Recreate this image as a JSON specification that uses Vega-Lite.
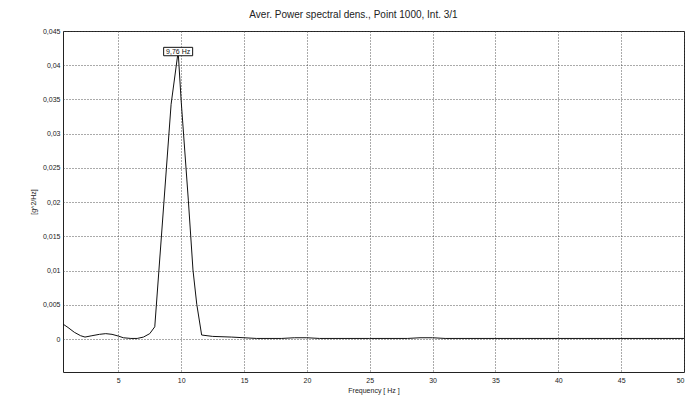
{
  "$schema": "https://vega.github.io/schema/vega-lite/v6.json",
  "width": 621,
  "height": 341,
  "autosize": "none",
  "padding": {"left": 63, "top": 31, "right": 11, "bottom": 39},
  "background": "white",
  "title": {"text": "Aver. Power spectral dens., Point 1000, Int. 3/1", "font": "Liberation Sans", "fontSize": 10, "fontWeight": "normal", "color": "#222", "offset": 7, "dx": -20},
  "config": {
    "view": {"stroke": "#222", "strokeWidth": 1},
    "axis": {"labelFont": "Liberation Sans", "labelFontSize": 7, "labelColor": "#222", "titleFont": "Liberation Sans", "titleFontSize": 7, "titleFontWeight": "normal", "titleColor": "#222", "gridColor": "#444", "gridDash": [1, 2], "gridWidth": 1, "gridOpacity": 0.9, "domain": false, "ticks": false}
  },
  "layer": [
    {
      "data": {"values": [
        {"f": 0.6, "psd": 0.0022},
        {"f": 1.0, "psd": 0.0017},
        {"f": 1.5, "psd": 0.0010},
        {"f": 2.0, "psd": 0.0005},
        {"f": 2.35, "psd": 0.0003},
        {"f": 2.9, "psd": 0.0005},
        {"f": 3.5, "psd": 0.0007},
        {"f": 4.0, "psd": 0.0008},
        {"f": 4.5, "psd": 0.0007},
        {"f": 5.0, "psd": 0.00045},
        {"f": 5.4, "psd": 0.0002},
        {"f": 6.0, "psd": 0.0001},
        {"f": 6.5, "psd": 0.0001},
        {"f": 7.0, "psd": 0.0003},
        {"f": 7.5, "psd": 0.0008},
        {"f": 7.9, "psd": 0.0018},
        {"f": 9.2, "psd": 0.0343},
        {"f": 9.76, "psd": 0.042},
        {"f": 10.0, "psd": 0.0348},
        {"f": 10.57, "psd": 0.0203},
        {"f": 10.94, "psd": 0.0101},
        {"f": 11.24, "psd": 0.0051},
        {"f": 11.63, "psd": 0.0006},
        {"f": 12.5, "psd": 0.0004},
        {"f": 14.0, "psd": 0.0003},
        {"f": 15.0, "psd": 0.0002},
        {"f": 16.0, "psd": 0.0001},
        {"f": 18.0, "psd": 0.0001},
        {"f": 19.0, "psd": 0.0002},
        {"f": 20.0, "psd": 0.0002},
        {"f": 21.0, "psd": 0.0001},
        {"f": 25.0, "psd": 0.0001},
        {"f": 28.0, "psd": 0.0001},
        {"f": 29.0, "psd": 0.0002},
        {"f": 30.0, "psd": 0.0002},
        {"f": 31.0, "psd": 0.0001},
        {"f": 40.0, "psd": 0.0001},
        {"f": 50.0, "psd": 0.0001}
      ]},
      "mark": {"type": "line", "color": "#111", "strokeWidth": 1, "clip": true},
      "encoding": {
        "x": {"field": "f", "type": "quantitative", "scale": {"domain": [0.6, 50], "nice": false, "zero": false},
              "axis": {"title": "Frequency [ Hz ]", "values": [5, 10, 15, 20, 25, 30, 35, 40, 45, 50], "tickCount": 20, "labelPadding": 4, "titlePadding": 3}},
        "y": {"field": "psd", "type": "quantitative", "scale": {"domain": [-0.0048, 0.045], "nice": false, "zero": false},
              "axis": {"title": "[g^2/Hz]", "values": [0, 0.005, 0.01, 0.015, 0.02, 0.025, 0.03, 0.035, 0.04, 0.045], "tickCount": 20, "labelOverlap": false, "labelExpr": "replace(format(datum.value, '.3~f'), '.', ',')", "labelPadding": 3, "titlePadding": 6}}
      }
    },
    {
      "data": {"values": [{"f": 9.76, "psd": 0.042, "label": "9,76 Hz"}]},
      "layer": [
        {
          "mark": {"type": "point", "shape": "M-1,-0.29H1V0.29H-1Z", "size": 841, "filled": true, "fill": "white", "stroke": "#111", "strokeWidth": 1, "opacity": 1},
          "encoding": {
            "x": {"field": "f", "type": "quantitative"},
            "y": {"field": "psd", "type": "quantitative"}
          }
        },
        {
          "mark": {"type": "text", "font": "Liberation Sans", "fontSize": 7, "color": "#111", "baseline": "middle", "align": "center"},
          "encoding": {
            "x": {"field": "f", "type": "quantitative"},
            "y": {"field": "psd", "type": "quantitative"},
            "text": {"field": "label"}
          }
        }
      ]
    }
  ]
}
